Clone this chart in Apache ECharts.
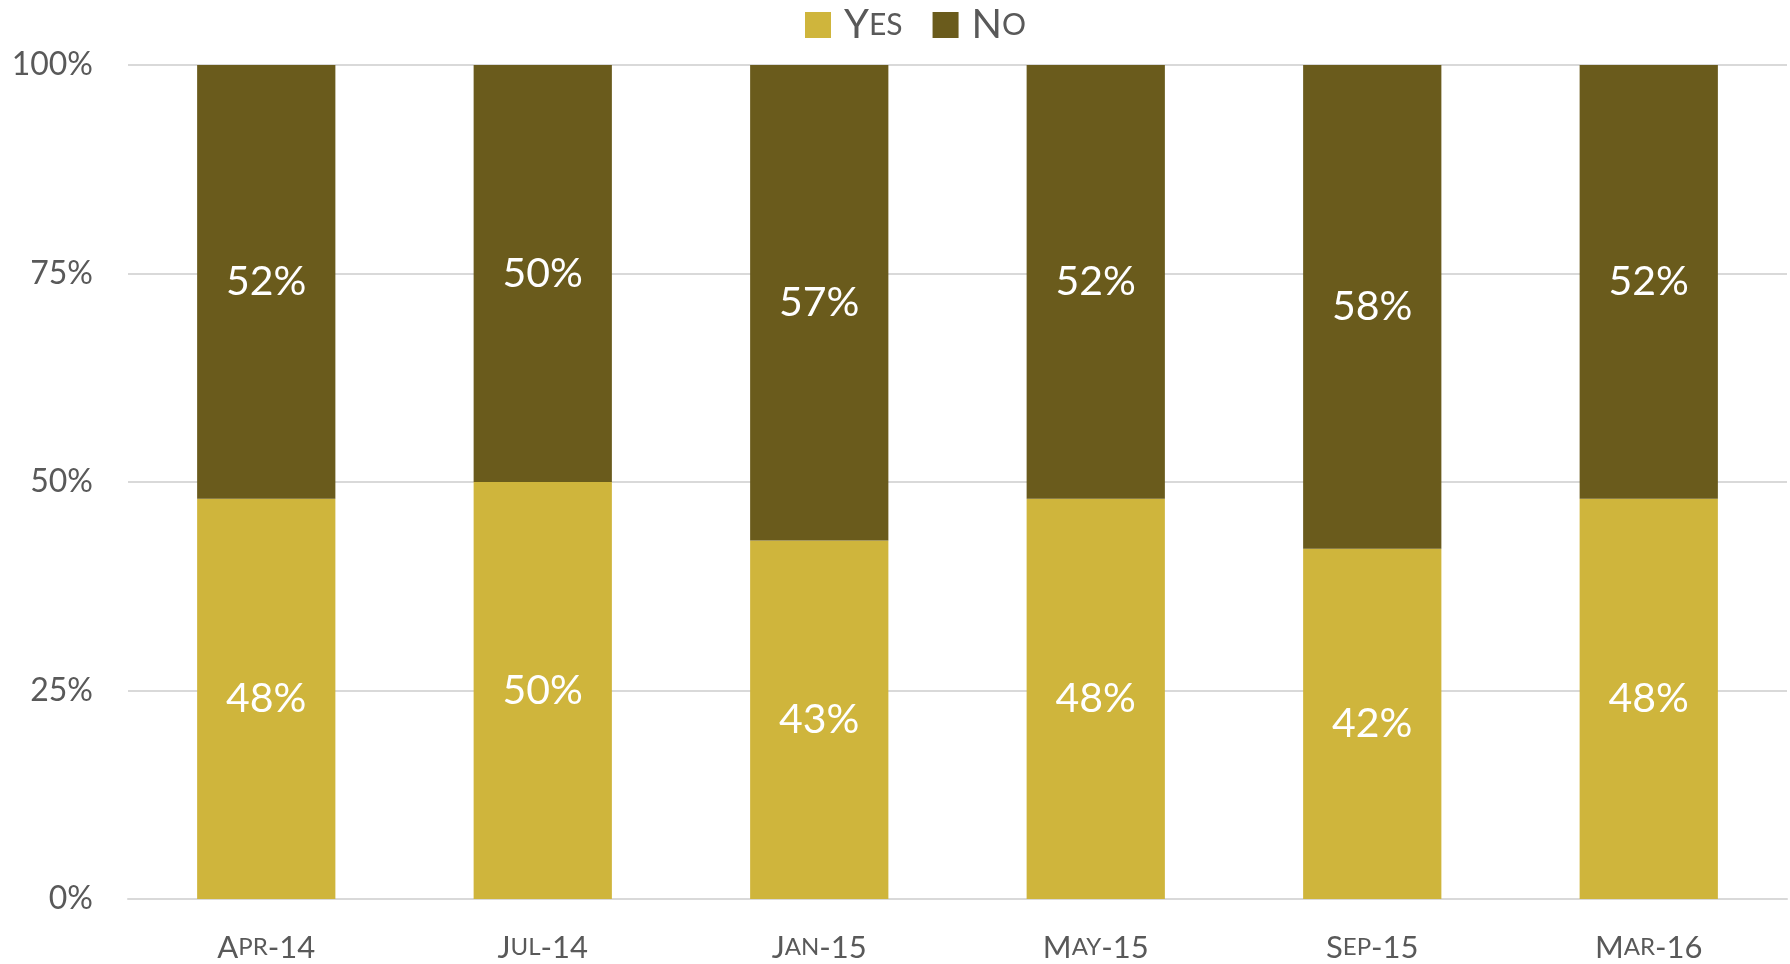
<!DOCTYPE html>
<html>
<head>
<meta charset="utf-8">
<script src="https://cdn.jsdelivr.net/npm/echarts@6/dist/echarts.min.js"></script>
<style>
  html, body { margin: 0; padding: 0; background: #fff; }
  #chart { width: 1790px; height: 964px; }
</style>
</head>
<body>
<div id="chart"></div>
<script>
const categories = ["Apr-14", "Jul-14", "Jan-15", "May-15", "Sep-15", "Mar-16"];
const yesValues = [48, 50, 43, 48, 42, 48];
const noValues = [52, 50, 57, 52, 58, 52];
const seriesNames = ["Yes", "No"];

const FONT = "Lato";
const TEXT = "#595959";

// fake small caps: lowercase letters become smaller uppercase
const smallCaps = (str) => {
  let out = "";
  let run = "";
  let small = null;
  for (const ch of str) {
    const isSmall = ch !== ch.toUpperCase();
    if (small !== null && isSmall !== small) {
      out += `{${small ? "s" : "b"}|${run}}`;
      run = "";
    }
    small = isSmall;
    run += isSmall ? ch.toUpperCase() : ch;
  }
  if (run) out += `{${small ? "s" : "b"}|${run}}`;
  return out;
};

const chart = echarts.init(document.getElementById("chart"), null, { renderer: "canvas" });

const barLabel = {
  show: true,
  position: "inside",
  color: "#fff",
  fontFamily: FONT,
  fontSize: 41,
  formatter: (p) => p.value + "%",
};

chart.setOption({
  animation: false,
  grid: { left: 128, right: 3, top: 65, bottom: 65 },
  legend: {
    top: 0,
    left: 800,
    itemWidth: 26,
    itemHeight: 26,
    itemGap: 30,
    icon: "rect",
    formatter: (name) => "{p|}" + smallCaps(name),
    textStyle: {
      color: TEXT,
      rich: {
        p: { width: 8 },
        b: { fontFamily: FONT, fontSize: 40, color: TEXT },
        s: { fontFamily: FONT, fontSize: 30, color: TEXT },
      },
    },
  },
  xAxis: {
    type: "category",
    data: categories,
    axisTick: { show: false },
    axisLine: { lineStyle: { color: "#d9d9d9", width: 2 } },
    axisLabel: {
      margin: 33,
      formatter: (v) => smallCaps(v),
      rich: {
        b: { fontFamily: FONT, fontSize: 31, color: TEXT },
        s: { fontFamily: FONT, fontSize: 24, color: TEXT },
      },
    },
  },
  yAxis: {
    type: "value",
    min: 0,
    max: 100,
    interval: 25,
    axisLine: { show: false },
    axisTick: { show: false },
    splitLine: { lineStyle: { color: "#d9d9d9", width: 2 } },
    axisLabel: {
      margin: 35,
      color: TEXT,
      fontFamily: FONT,
      fontSize: 32,
      formatter: "{value}%",
    },
  },
  series: [
    {
      name: seriesNames[0],
      type: "bar",
      stack: "total",
      barWidth: "50%",
      data: yesValues,
      itemStyle: { color: "#CFB53C" },
      label: barLabel,
    },
    {
      name: seriesNames[1],
      type: "bar",
      stack: "total",
      barWidth: "50%",
      data: noValues,
      itemStyle: { color: "#6A5B1C" },
      label: barLabel,
    },
  ],
});
</script>
</body>
</html>
